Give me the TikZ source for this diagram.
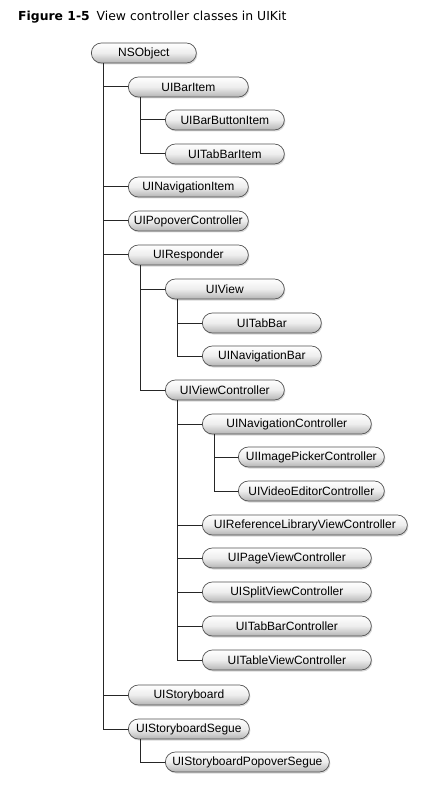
\documentclass[tikz,border=0pt]{standalone}
\usepackage{fontspec}
\setmainfont{Liberation Sans}
\newfontfamily\titlefont{DejaVu Sans}
\usetikzlibrary{shadows}
\definecolor{boxtop}{HTML}{FFFFFF}
\definecolor{boxmid}{HTML}{EDEDED}
\definecolor{boxbot}{HTML}{B4B4B4}
\definecolor{boxedge}{HTML}{505050}
\begin{document}
\begin{tikzpicture}[x=1pt,y=-1pt,
  cls/.style={draw=boxedge, line width=0.7pt, rounded corners=10pt,
    top color=boxtop, bottom color=boxbot, middle color=boxmid, minimum height=20pt, inner sep=0pt,
    anchor=west, font=\fontsize{12}{14}\selectfont,
    drop shadow={shadow xshift=1pt, shadow yshift=-1.5pt, opacity=0.3, fill=black!50}},
  conn/.style={draw=black!85, line width=1pt}]
\useasboundingbox (0,0) rectangle (433,791);
\node[anchor=base west, inner sep=0pt, font=\titlefont\fontsize{12.4}{14}\selectfont] (title) at (18,21) {\textbf{Figure 1-5}\hspace{0.55em}View controller classes in UIKit};

\newcommand{\cls}[5]{\node[cls, minimum width=#4pt] (#1) at (#2,#3) {#5};}
\cls{nsobject}{91}{53}{105}{NSObject}
\cls{baritem}{128}{87}{120}{UIBarItem}
\cls{barbutton}{165}{120}{119}{UIBarButtonItem}
\cls{tabbaritem}{165}{154}{119}{UITabBarItem}
\cls{navitem}{128}{187}{120}{UINavigationItem}
\cls{popover}{128}{221}{120}{UIPopoverController}
\cls{responder}{128}{255}{120}{UIResponder}
\cls{view}{165}{289}{119}{UIView}
\cls{tabbar}{202}{323}{119}{UITabBar}
\cls{navbar}{202}{356}{119}{UINavigationBar}
\cls{vc}{165}{390}{119}{UIViewController}
\cls{navctrl}{202}{424}{169}{UINavigationController}
\cls{imgpicker}{238}{457}{146}{UIImagePickerController}
\cls{videoed}{238}{491}{146}{UIVideoEditorController}
\cls{reflib}{202}{525}{205}{UIReferenceLibraryViewController}
\cls{pagevc}{202}{558}{169}{UIPageViewController}
\cls{splitvc}{202}{592}{169}{UISplitViewController}
\cls{tabbarc}{202}{626}{169}{UITabBarController}
\cls{tablevc}{202}{660}{169}{UITableViewController}
\cls{storyboard}{128}{695}{121}{UIStoryboard}
\cls{segue}{128}{729}{121}{UIStoryboardSegue}
\cls{popsegue}{165}{762}{164}{UIStoryboardPopoverSegue}

\foreach \p/\c in {nsobject/baritem, nsobject/navitem, nsobject/popover, nsobject/responder,
  nsobject/storyboard, nsobject/segue,
  baritem/barbutton, baritem/tabbaritem,
  responder/view, responder/vc,
  view/tabbar, view/navbar,
  vc/navctrl, vc/reflib, vc/pagevc, vc/splitvc, vc/tabbarc, vc/tablevc,
  navctrl/imgpicker, navctrl/videoed,
  segue/popsegue}
  \draw[conn] ([xshift=12pt]\p.south west) |- (\c.west);
\end{tikzpicture}
\end{document}
